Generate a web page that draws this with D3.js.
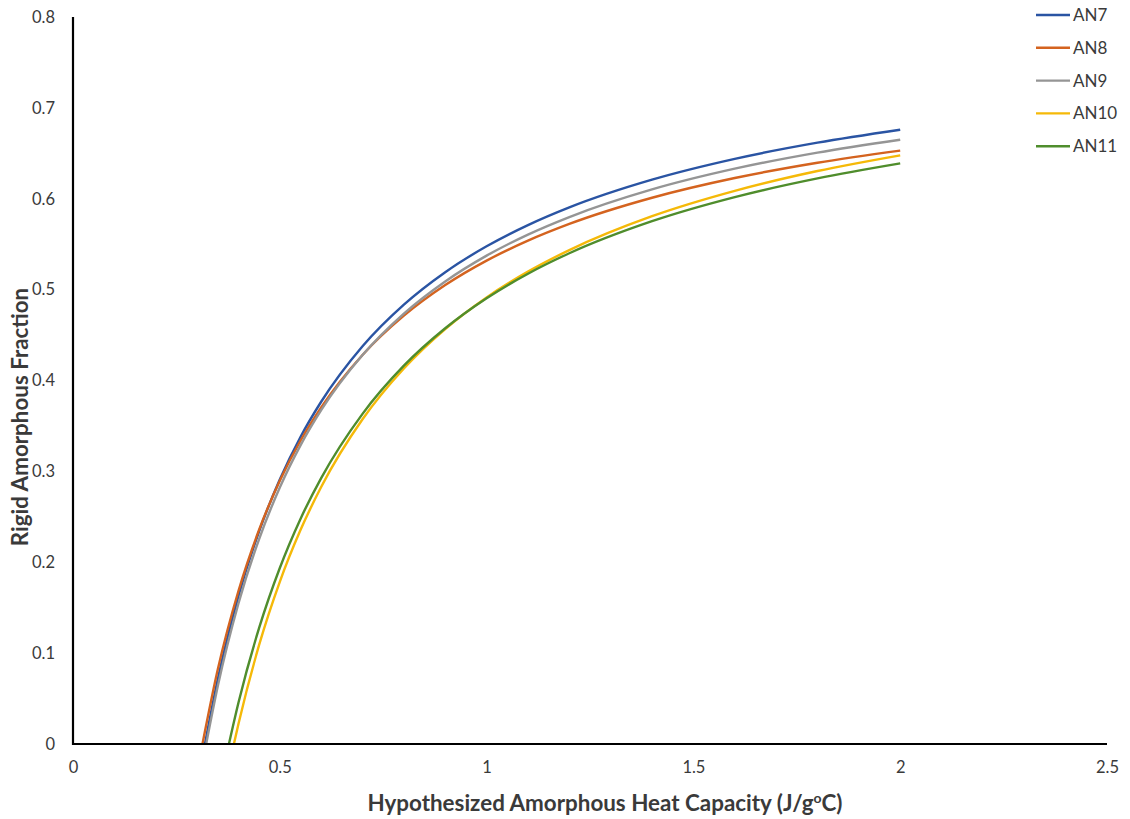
<!DOCTYPE html>
<html>
<head>
<meta charset="utf-8">
<script src="https://cdn.jsdelivr.net/npm/d3@7"></script>
<style>
  html, body { margin: 0; padding: 0; background: #fff; }
  svg { display: block; font-family: Lato, "Open Sans", "Liberation Sans", sans-serif; }
</style>
</head>
<body>
<svg id="chart" width="1130" height="819"></svg>
<script>
// Hypothesized amorphous heat capacity (J/g°C) sample points for each curve
const xAN7  = [0.319, 0.35, 0.4, 0.45, 0.5, 0.55, 0.6, 0.7, 0.8, 0.9, 1.0, 1.1, 1.2, 1.4, 1.6, 1.8, 2.0];
const xAN8  = [0.313, 0.35, 0.4, 0.45, 0.5, 0.55, 0.6, 0.7, 0.8, 0.9, 1.0, 1.1, 1.2, 1.4, 1.6, 1.8, 2.0];
const xAN9  = [0.322, 0.35, 0.4, 0.45, 0.5, 0.55, 0.6, 0.7, 0.8, 0.9, 1.0, 1.1, 1.2, 1.4, 1.6, 1.8, 2.0];
const xAN10 = [0.389, 0.4, 0.45, 0.5, 0.55, 0.6, 0.7, 0.8, 0.9, 1.0, 1.1, 1.2, 1.4, 1.6, 1.8, 2.0];
const xAN11 = [0.377, 0.4, 0.45, 0.5, 0.55, 0.6, 0.7, 0.8, 0.9, 1.0, 1.1, 1.2, 1.4, 1.6, 1.8, 2.0];

// Rigid amorphous fraction at those points
const yAN7  = [0, 0.0712, 0.1628, 0.2341, 0.2911, 0.3378, 0.3766, 0.4377, 0.4835, 0.5192, 0.5477, 0.5710, 0.5905, 0.6210, 0.6439, 0.6617, 0.6760];
const yAN8  = [0, 0.0819, 0.1684, 0.2358, 0.2896, 0.3337, 0.3704, 0.4281, 0.4713, 0.5050, 0.5319, 0.5539, 0.5723, 0.6011, 0.6228, 0.6396, 0.6530];
const yAN9  = [0, 0.0635, 0.1546, 0.2255, 0.2822, 0.3286, 0.3673, 0.4280, 0.4736, 0.5090, 0.5374, 0.5606, 0.5799, 0.6103, 0.6331, 0.6508, 0.6650];
const yAN10 = [0, 0.0220, 0.1090, 0.1785, 0.2354, 0.2828, 0.3573, 0.4132, 0.4566, 0.4914, 0.5198, 0.5435, 0.5808, 0.6087, 0.6305, 0.6478];
const yAN11 = [0, 0.0453, 0.1277, 0.1937, 0.2477, 0.2926, 0.3633, 0.4163, 0.4575, 0.4905, 0.5175, 0.5400, 0.5753, 0.6018, 0.6224, 0.6389];

const seriesNames = ["AN7", "AN8", "AN9", "AN10", "AN11"];
const seriesX = [xAN7, xAN8, xAN9, xAN10, xAN11];
const seriesY = [yAN7, yAN8, yAN9, yAN10, yAN11];
const seriesColors = ["#2A54A3", "#D4631F", "#959595", "#F5B908", "#4F8D2C"];

const xTicks = [0, 0.5, 1, 1.5, 2, 2.5];
const yTicks = [0, 0.1, 0.2, 0.3, 0.4, 0.5, 0.6, 0.7, 0.8];

const svg = d3.select("#chart");
const plot = { left: 73, right: 1107, top: 17, bottom: 744 };

const x = d3.scaleLinear().domain([0, 2.5]).range([plot.left, plot.right]);
const y = d3.scaleLinear().domain([0, 0.8]).range([plot.bottom, plot.top]);

// Axes: labels only, no tick marks
const xAxis = d3.axisBottom(x).tickValues(xTicks).tickSize(0).tickPadding(17)
  .tickFormat(d => d3.format("")(d));
const yAxis = d3.axisLeft(y).tickValues(yTicks).tickSize(0).tickPadding(18)
  .tickFormat(d => d === 0 ? "0" : d3.format(".1f")(d));

const gx = svg.append("g").attr("transform", `translate(0,${plot.bottom})`).call(xAxis);
const gy = svg.append("g").attr("transform", `translate(${plot.left},0)`).call(yAxis);
[gx, gy].forEach(g => {
  g.select(".domain").remove();
  g.selectAll("text")
    .attr("fill", "#3a3a3a")
    .style("font-size", "16.5px")
    .style("font-family", "Lato, 'Open Sans', sans-serif");
});

// Series lines
const line = d3.line()
  .x(d => x(d[0]))
  .y(d => y(d[1]))
  .curve(d3.curveMonotoneX);

seriesNames.forEach((name, i) => {
  const pts = seriesX[i].map((v, j) => [v, seriesY[i][j]]);
  svg.append("path")
    .datum(pts)
    .attr("fill", "none")
    .attr("stroke", seriesColors[i])
    .attr("stroke-width", 2.4)
    .attr("d", line);
});

// Axis lines drawn on top
svg.append("line")
  .attr("x1", x(0) - 1).attr("x2", x(2.5))
  .attr("y1", y(0)).attr("y2", y(0))
  .attr("stroke", "#000").attr("stroke-width", 2.2);
svg.append("line")
  .attr("x1", x(0)).attr("x2", x(0))
  .attr("y1", y(0.8)).attr("y2", y(0) + 1)
  .attr("stroke", "#000").attr("stroke-width", 2.2);

// Axis titles
const xTitle = svg.append("text")
  .attr("x", 605).attr("y", 811)
  .attr("text-anchor", "middle")
  .attr("fill", "#3a3a3a")
  .style("font-size", "22.4px")
  .style("font-weight", "bold");
xTitle.append("tspan").text("Hypothesized Amorphous Heat Capacity (J/g");
xTitle.append("tspan").attr("dy", -8).style("font-size", "14px").text("o");
xTitle.append("tspan").attr("dy", 8).text("C)");

svg.append("text")
  .attr("transform", "translate(28,417) rotate(-90)")
  .attr("text-anchor", "middle")
  .attr("fill", "#3a3a3a")
  .style("font-size", "22.4px")
  .style("font-weight", "bold")
  .text("Rigid Amorphous Fraction");

// Legend
const legend = svg.append("g");
seriesNames.forEach((name, i) => {
  const ly = 15 + i * 32.8;
  legend.append("line")
    .attr("x1", 1036).attr("x2", 1070)
    .attr("y1", ly).attr("y2", ly)
    .attr("stroke", seriesColors[i]).attr("stroke-width", 2.4);
  legend.append("text")
    .attr("x", 1073).attr("y", ly)
    .attr("dy", "0.35em")
    .attr("fill", "#3a3a3a")
    .style("font-size", "17px")
    .text(name);
});
</script>
</body>
</html>
